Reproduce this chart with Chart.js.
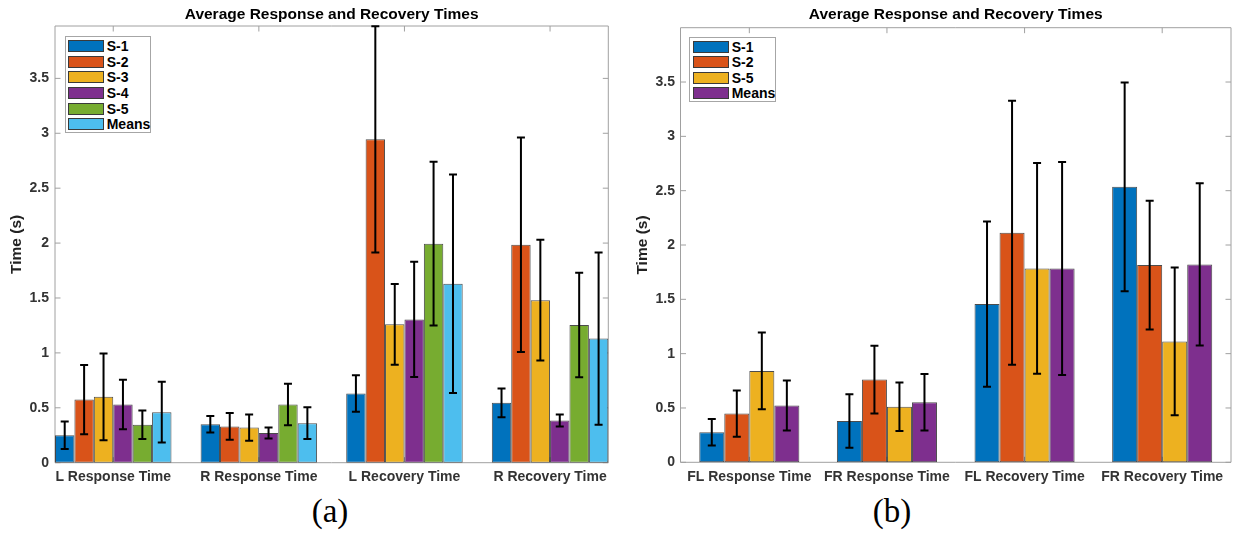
<!DOCTYPE html>
<html>
<head>
<meta charset="utf-8">
<script src="https://cdn.jsdelivr.net/npm/chart.js@4.4.1/dist/chart.umd.min.js"></script>
<style>
  html, body { margin: 0; padding: 0; background: #fff; }
  body { width: 1240px; height: 535px; position: relative; overflow: hidden; font-family: "Liberation Sans", Arial, sans-serif; }
  .panel { position: absolute; top: 0; width: 620px; height: 490px; }
  .legend { position: absolute; box-sizing: border-box; border: 1px solid #a6a6a6; background: #fff; }
  .legend .sw { position: absolute; box-sizing: border-box; width: 36px; height: 12px; border: 1px solid #3a3a3a; }
  .legend .lb { position: absolute; font-weight: bold; font-size: 14px; line-height: 16px; color: #000; white-space: nowrap; }
  .cap { position: absolute; top: 495px; width: 100px; text-align: center; font-family: "Liberation Serif", "Times New Roman", serif; font-size: 33px; line-height: 33px; color: #000; }
</style>
</head>
<body>
<div class="panel" style="left:0"><canvas id="chartA" width="620" height="490"></canvas></div>
<div class="panel" style="left:620px"><canvas id="chartB" width="620" height="490"></canvas></div>
<div class="legend" id="legA"></div>
<div class="legend" id="legB"></div>
<div class="cap" style="left:280px">(a)</div>
<div class="cap" style="left:842px">(b)</div>
<script>
// panel (a)
const catsA = ['L Response Time', 'R Response Time', 'L Recovery Time', 'R Recovery Time'];
const seriesA = ['S-1', 'S-2', 'S-3', 'S-4', 'S-5', 'Means'];
const valuesA = [
    [0.25, 0.35, 0.63, 0.545],
    [0.575, 0.33, 2.945, 1.985],
    [0.60, 0.32, 1.26, 1.48],
    [0.53, 0.27, 1.305, 0.385],
    [0.345, 0.53, 1.995, 1.255],
    [0.46, 0.36, 1.63, 1.13]
];
const errorsA = [
    [0.125, 0.076, 0.167, 0.13],
    [0.315, 0.122, 1.03, 0.977],
    [0.395, 0.12, 0.367, 0.55],
    [0.225, 0.05, 0.525, 0.055],
    [0.13, 0.19, 0.745, 0.476],
    [0.277, 0.145, 0.995, 0.785]
];
const colorsA = ['#0072BD', '#D95319', '#EDB120', '#7E2F8E', '#77AC30', '#4DBEEE'];

// panel (b)
const catsB = ['FL Response Time', 'FR Response Time', 'FL Recovery Time', 'FR Recovery Time'];
const seriesB = ['S-1', 'S-2', 'S-5', 'Means'];
const valuesB = [
    [0.276, 0.381, 1.456, 2.535],
    [0.448, 0.761, 2.113, 1.815],
    [0.841, 0.512, 1.784, 1.112],
    [0.522, 0.553, 1.784, 1.821]
];
const errorsB = [
    [0.122, 0.246, 0.76, 0.96],
    [0.212, 0.312, 1.215, 0.593],
    [0.353, 0.223, 0.97, 0.68],
    [0.23, 0.26, 0.98, 0.747]
];
const colorsB = ['#0072BD', '#D95319', '#EDB120', '#7E2F8E'];

const yTicks = [0, 0.5, 1, 1.5, 2, 2.5, 3, 3.5];
const titleText = 'Average Response and Recovery Times';
const yLabel = 'Time (s)';

const FONT = "'Liberation Sans', Arial, sans-serif";

// box round the axes with matlab style inner ticks
const framePlugin = {
    id: 'frame',
    beforeDatasetsDraw(chart) {
        const { ctx, chartArea: a, scales: { x, y } } = chart;
        ctx.save();
        ctx.strokeStyle = '#a0a0a0';
        ctx.lineWidth = 1;
        ctx.beginPath();
        ctx.rect(a.left, a.top, a.right - a.left, a.bottom - a.top);
        y.ticks.forEach(t => {
            const py = y.getPixelForValue(t.value);
            ctx.moveTo(a.left, py); ctx.lineTo(a.left + 5.5, py);
            ctx.moveTo(a.right, py); ctx.lineTo(a.right - 5.5, py);
        });
        x.ticks.forEach(t => {
            const px = x.getPixelForValue(t.value);
            ctx.moveTo(px, a.top); ctx.lineTo(px, a.top + 5.5);
            ctx.moveTo(px, a.bottom); ctx.lineTo(px, a.bottom - 5.5);
        });
        ctx.stroke();
        ctx.restore();
    }
};

const errorBarPlugin = {
    id: 'errorBars',
    afterDatasetsDraw(chart) {
        const { ctx, scales: { y } } = chart;
        ctx.save();
        ctx.strokeStyle = '#000';
        ctx.lineWidth = 2;
        chart.data.datasets.forEach((ds, d) => {
            chart.getDatasetMeta(d).data.forEach((bar, i) => {
                const v = ds.data[i].y, e = ds.errors[i];
                const top = y.getPixelForValue(v + e);
                const bot = y.getPixelForValue(v - e);
                ctx.beginPath();
                ctx.moveTo(bar.x, top); ctx.lineTo(bar.x, bot);
                ctx.moveTo(bar.x - 4, top); ctx.lineTo(bar.x + 4, top);
                ctx.moveTo(bar.x - 4, bot); ctx.lineTo(bar.x + 4, bot);
                ctx.stroke();
            });
        });
        ctx.restore();
    }
};

function makeChart(id, cats, names, colors, values, errors, g) {
    const datasets = names.map((n, s) => ({
        label: n,
        data: values[s].map((v, i) => ({ x: i + 1, y: v })),
        errors: errors[s],
        backgroundColor: colors[s],
        borderColor: 'rgba(45,45,45,0.85)',
        borderWidth: 1,
        borderSkipped: false,
        categoryPercentage: g.groupWidth,
        barPercentage: 1.0
    }));

    return new Chart(document.getElementById(id), {
        type: 'bar',
        data: { datasets: datasets },
        options: {
            responsive: false,
            animation: false,
            layout: { autoPadding: false, padding: { left: 0, right: g.padRight, top: 0, bottom: 0 } },
            plugins: {
                legend: { display: false },
                tooltip: { enabled: false },
                title: {
                    display: true,
                    text: titleText,
                    fullSize: false,
                    color: '#000',
                    font: { family: FONT, size: 15.5, weight: 'bold', lineHeight: 1.2 },
                    padding: { top: 5, bottom: g.top - 5 - 18.6 }
                }
            },
            scales: {
                x: {
                    type: 'linear',
                    offset: false,
                    min: g.xMin,
                    max: g.xMax,
                    afterBuildTicks: ax => { ax.ticks = cats.map((c, i) => ({ value: i + 1 })); },
                    afterFit: ax => { ax.height = 490 - g.bottom; ax.paddingLeft = 0; ax.paddingRight = 0; },
                    grid: { display: false, drawTicks: false, offset: false },
                    border: { display: false },
                    ticks: {
                        callback: v => cats[v - 1],
                        autoSkip: false,
                        maxRotation: 0,
                        padding: 6,
                        color: '#333',
                        font: { family: FONT, size: 14, weight: 'bold', lineHeight: 1.2 }
                    }
                },
                y: {
                    min: 0,
                    max: g.yMax,
                    afterBuildTicks: ax => { ax.ticks = yTicks.map(v => ({ value: v })); },
                    afterFit: ax => { ax.width = g.left; ax.paddingTop = 0; ax.paddingBottom = 0; },
                    grid: { display: false, drawTicks: false },
                    border: { display: false },
                    ticks: {
                        callback: v => String(v),
                        padding: g.tickPad,
                        color: '#333',
                        font: { family: FONT, size: 14, weight: 'bold', lineHeight: 1.2 }
                    },
                    title: {
                        display: true,
                        text: yLabel,
                        color: '#222',
                        font: { family: FONT, size: 15.5, weight: 'bold', lineHeight: 1.2 },
                        padding: { top: g.labelPad, bottom: 0 }
                    }
                }
            }
        },
        plugins: [framePlugin, errorBarPlugin]
    });
}

function buildLegend(id, names, colors, box) {
    const el = document.getElementById(id);
    el.style.left = box.left + 'px';
    el.style.top = box.top + 'px';
    el.style.width = box.width + 'px';
    el.style.height = box.height + 'px';
    names.forEach((n, i) => {
        const cy = box.first + i * box.step;
        const sw = document.createElement('div');
        sw.className = 'sw';
        sw.style.left = box.swLeft + 'px';
        sw.style.top = (cy - 6) + 'px';
        sw.style.background = colors[i];
        const lb = document.createElement('div');
        lb.className = 'lb';
        lb.style.left = box.txtLeft + 'px';
        lb.style.top = (cy - 8) + 'px';
        lb.textContent = n;
        el.appendChild(sw);
        el.appendChild(lb);
    });
}

makeChart('chartA', catsA, seriesA, colorsA, valuesA, errorsA,
    { left: 55, padRight: 11.7, top: 26, bottom: 462.7, xMin: 0.6, xMax: 4.4, yMax: 3.977, groupWidth: 0.8, tickPad: 6, labelPad: 7.4 });
makeChart('chartB', catsB, seriesB, colorsB, valuesB, errorsB,
    { left: 60.5, padRight: 9, top: 27.7, bottom: 462.3, xMin: 0.5, xMax: 4.5, yMax: 4.0, groupWidth: 4 / 5.5, tickPad: 5.5, labelPad: 13.2 });

buildLegend('legA', seriesA, colorsA, { left: 65, top: 36, width: 86, height: 97, first: 9.3, step: 15.57, swLeft: 2.3, txtLeft: 40.7 });
buildLegend('legB', seriesB, colorsB, { left: 689, top: 36.7, width: 87, height: 65, first: 8.9, step: 15.5, swLeft: 2.7, txtLeft: 41.7 });
</script>
</body>
</html>
